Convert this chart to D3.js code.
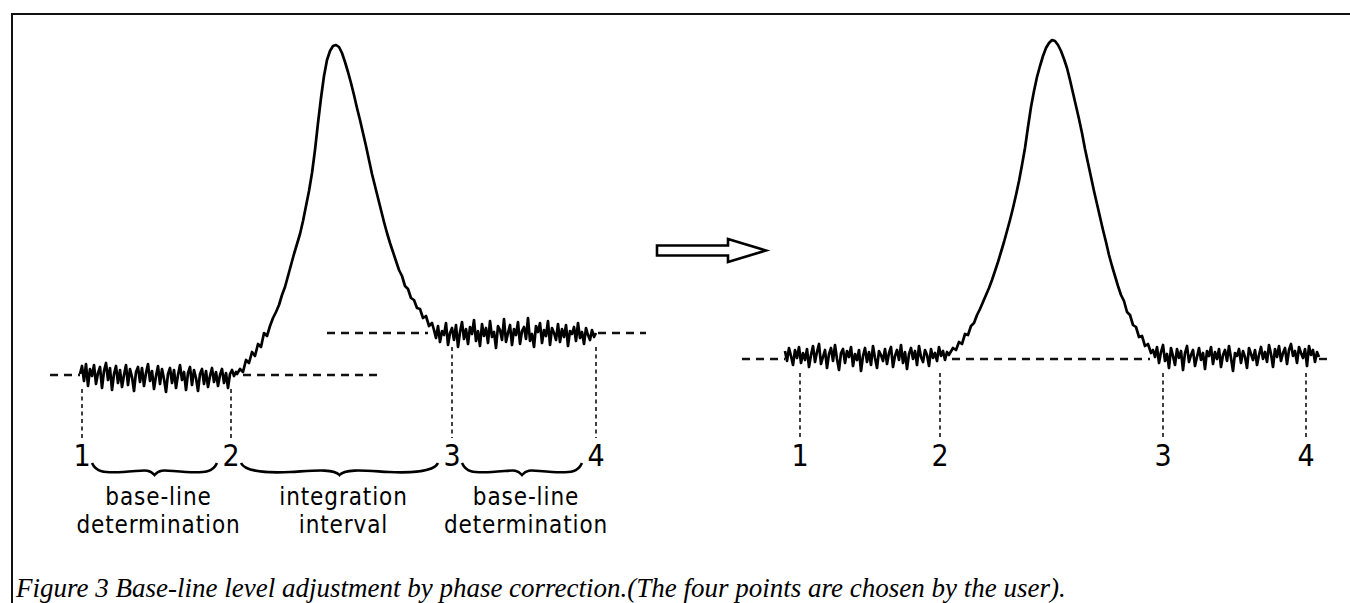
<!DOCTYPE html>
<html>
<head>
<meta charset="utf-8">
<script src="https://cdn.jsdelivr.net/npm/d3@7"></script>
<style>
  body { margin: 0; background: #fff; }
  svg { display: block; }
</style>
</head>
<body>
<div id="fig"></div>
<script>
var noiseStep = 2, peakStep = 3;

// --- before phase correction ---
var leftNoiseA = [
  4, 12, -3, 14, -8, 9, 2, 13, -6, 5,
  11, -10, 7, 15, -2, 10, -12, 4, 12, -5,
  8, -9, 3, 13, -7, 9, 1, -13, 6, 11,
  -4, 10, -8, 5, 14, -3, 7, -11, 2, 12,
  -6, 9, -1, -14, 4, 10, -5, 8, -10, 3,
  13, -2, 6, -12, 5, 11, -7, 8, 0, -13,
  4, 9, -6, 7, -9, 2, 10, -4, 6, -8,
  3, 9, -5, 5, -10, 4, 8, 2, 6
];
var leftPeakStart = 157;
var leftPeak = [
  4, 9, 6, 18, 15, 26, 22, 34, 31, 45,
  42, 52, 60, 66, 73, 83, 91, 102, 113, 124,
  134, 144, 157, 172, 187, 205, 228, 255, 280, 302,
  318, 327, 332, 333, 331, 325, 316, 306, 295, 283,
  270, 258, 245, 232, 218, 204, 192, 180, 168, 156,
  145, 135, 126, 117, 108, 102, 92, 89, 80, 78,
  70, 69, 60, 62, 52, 55
];
var leftNoiseBStart = 354;
var leftNoiseB = [
  48, 40, 52, 36, 47, 43, 55, 33, 45, 50,
  38, 53, 31, 46, 56, 39, 49, 34, 51, 44,
  58, 37, 47, 32, 54, 42, 50, 35, 57, 41,
  46, 30, 52, 48, 38, 59, 36, 45, 53, 33,
  49, 43, 56, 34, 47, 51, 39, 60, 37, 44,
  31, 52, 46, 55, 35, 48, 42, 57, 33, 50,
  45, 38, 54, 36, 49, 41, 53, 32, 47, 44,
  51, 37, 55, 40, 46, 34, 50, 43, 38, 48,
  41, 45
];
var leftLevels = [3, 45];            // base-line level before / after the peak
var leftMarkers = [2, 151, 372, 516]; // channels of the four chosen points

// --- after phase correction ---
var rightNoiseA = [
  8, -2, 11, 3, -6, 9, 1, 12, -4, 6,
  -1, 10, -8, 4, 13, -3, 7, 15, -5, 2,
  9, -9, 5, 11, -2, 14, 0, -11, 6, 10,
  -4, 8, 2, 12, -7, 5, -1, 9, -12, 3,
  11, -3, 7, -6, 13, 1, -9, 8, 4, -2,
  10, -5, 6, 12, -8, 3, 9, -1, 14, -4,
  7, -10, 5, 11, 0, 8, -6, 13, 2, -3,
  9, 4, -7, 10, 1, 6, -2, 12, 3, 8,
  -1, 7, 4
];
var rightPeakStart = 165;
var rightPeak = [
  6, 11, 9, 17, 15, 25, 24, 33, 36, 44,
  50, 57, 64, 71, 79, 88, 97, 107, 117, 128,
  139, 151, 164, 178, 194, 211, 232, 252, 268, 282,
  293, 303, 311, 316, 319, 318, 314, 308, 300, 291,
  279, 266, 253, 240, 226, 210, 196, 182, 168, 155,
  142, 129, 117, 104, 93, 83, 73, 64, 58, 47,
  44, 34, 32, 22, 23, 13, 15, 6
];
var rightNoiseBStart = 368;
var rightNoiseB = [
  9, 2, 12, -4, 7, 14, -2, 5, -9, 11,
  3, -6, 10, 1, 8, -11, 6, 13, -3, 4,
  9, -7, 2, 11, -1, 6, -10, 8, 3, 12,
  -5, 7, 0, 10, -8, 4, 9, -2, 13, 1,
  -12, 6, 3, 10, -4, 8, 2, -9, 11, 5,
  -1, 9, -6, 4, 12, 0, 7, -3, 14, 5,
  -8, 10, 2, 13, -2, 6, 11, -5, 9, 15,
  3, 8, -4, 12, 6, 1, 10, -7, 13, 4,
  9, -3, 7, 2
];
var rightLevels = [0, 0];
var rightMarkers = [15, 155, 378, 521];

var markerLabels = ["1", "2", "3", "4"];
var braceLabels = [["base-line", "determination"], ["integration", "interval"], ["base-line", "determination"]];
var caption = "Figure 3 Base-line level adjustment by phase correction.(The four points are chosen by the user).";

var W = 1350, H = 603;
var labelFont = "'DejaVu Sans Condensed', 'DejaVu Sans', sans-serif";

function buildTrace(noiseA, peakStart, peak, noiseBStart, noiseB) {
    var pts = [];
    noiseA.forEach(function(v, i) { pts.push([i * noiseStep, v]); });
    peak.forEach(function(v, i) { pts.push([peakStart + i * peakStep, v]); });
    noiseB.forEach(function(v, i) { pts.push([noiseBStart + i * noiseStep, v]); });
    return pts;
}

var panels = [
    {
        x: d3.scaleLinear().domain([0, 520]).range([80, 600]),
        y: d3.scaleLinear().domain([0, 333]).range([378, 45]),
        data: buildTrace(leftNoiseA, leftPeakStart, leftPeak, leftNoiseBStart, leftNoiseB),
        levels: leftLevels,
        markers: leftMarkers,
        // dashed base-line pieces: [from channel, to channel, level index]
        guides: [[-30, 0, 0], [163, 302, 0], [247, 348, 1], [518, 566, 1]],
        braces: true
    },
    {
        x: d3.scaleLinear().domain([0, 540]).range([785, 1325]),
        y: d3.scaleLinear().domain([0, 319]).range([359, 40]),
        data: buildTrace(rightNoiseA, rightPeakStart, rightPeak, rightNoiseBStart, rightNoiseB),
        levels: rightLevels,
        markers: rightMarkers,
        guides: [[-43, 0, 0], [167, 365, 0], [534, 547, 1]],
        braces: false
    }
];

var svg = d3.select("#fig")
    .append("svg")
        .attr("width", W)
        .attr("height", H);

// frame (top and left edge only, as in the print)
svg.append("path")
    .attr("d", "M12," + H + "L12,14L" + W + ",14")
    .attr("fill", "none")
    .attr("stroke", "#111")
    .attr("stroke-width", 2);

function bracePath(x1, x2, y0) {
    var xm = (x1 + x2) / 2, a = (x1 + xm) / 2, b = (xm + x2) / 2;
    return "M" + x1 + "," + y0 +
        "C" + (x1 + 4) + "," + (y0 + 9) + " " + (a - 20) + "," + (y0 + 10) + " " + a + "," + (y0 + 9) +
        "C" + (a + 20) + "," + (y0 + 8) + " " + (xm - 6) + "," + (y0 + 5) + " " + xm + "," + (y0 + 12) +
        "C" + (xm + 6) + "," + (y0 + 5) + " " + (b - 20) + "," + (y0 + 8) + " " + b + "," + (y0 + 9) +
        "C" + (b + 20) + "," + (y0 + 10) + " " + (x2 - 4) + "," + (y0 + 9) + " " + x2 + "," + y0;
}

panels.forEach(function(p) {
    var g = svg.append("g");

    // dashed base-line levels
    g.selectAll(".guide")
        .data(p.guides)
        .enter()
        .append("line")
            .attr("x1", function(d) { return p.x(d[0]); })
            .attr("x2", function(d) { return p.x(d[1]); })
            .attr("y1", function(d) { return p.y(p.levels[d[2]]); })
            .attr("y2", function(d) { return p.y(p.levels[d[2]]); })
            .attr("stroke", "#111")
            .attr("stroke-width", 2.4)
            .attr("stroke-dasharray", "8,6");

    // dotted drop lines for the four points
    g.selectAll(".drop")
        .data(p.markers)
        .enter()
        .append("line")
            .attr("x1", function(d) { return p.x(d); })
            .attr("x2", function(d) { return p.x(d); })
            .attr("y1", function(d, i) { return p.y(p.levels[i < 2 ? 0 : 1]) + 14; })
            .attr("y2", 438)
            .attr("stroke", "#111")
            .attr("stroke-width", 1.6)
            .attr("stroke-dasharray", "4,3.5");

    // the spectrum
    var line = d3.line()
        .x(function(d) { return p.x(d[0]); })
        .y(function(d) { return p.y(d[1]); });

    g.append("path")
        .datum(p.data)
        .attr("d", line)
        .attr("fill", "none")
        .attr("stroke", "#000")
        .attr("stroke-width", 2.7)
        .attr("stroke-linejoin", "round");

    // point numbers
    g.selectAll(".num")
        .data(p.markers)
        .enter()
        .append("text")
            .attr("x", function(d) { return p.x(d); })
            .attr("y", 466)
            .attr("text-anchor", "middle")
            .style("font-family", labelFont)
            .style("font-size", "30px")
            .text(function(d, i) { return markerLabels[i]; });

    if (!p.braces) return;

    var spans = d3.pairs(p.markers);

    g.selectAll(".brace")
        .data(spans)
        .enter()
        .append("path")
            .attr("d", function(d) { return bracePath(p.x(d[0]) + 10, p.x(d[1]) - 14, 463); })
            .attr("fill", "none")
            .attr("stroke", "#000")
            .attr("stroke-width", 2.6);

    // two-line captions under each brace
    [0, 1].forEach(function(row) {
        g.selectAll(".blab" + row)
            .data(spans)
            .enter()
            .append("text")
                .attr("x", function(d) { return (p.x(d[0]) + p.x(d[1])) / 2 + 2; })
                .attr("y", row === 0 ? 505 : 533)
                .attr("text-anchor", "middle")
                .style("font-family", labelFont)
                .style("font-size", "24px")
                .style("letter-spacing", "0.9px")
                .text(function(d, i) { return braceLabels[i][row]; });
    });
});

// hollow arrow between the two traces
svg.append("path")
    .attr("d", "M657,245.5L728,245.5L728,239L766,250.5L728,262L728,255.5L657,255.5Z")
    .attr("fill", "#fff")
    .attr("stroke", "#000")
    .attr("stroke-width", 2.6)
    .attr("stroke-linejoin", "miter");

svg.append("text")
    .attr("x", 16)
    .attr("y", 597)
    .style("font-family", "'Liberation Serif', 'Times New Roman', serif")
    .style("font-style", "italic")
    .style("font-size", "27px")
    .text(caption);
</script>
</body>
</html>
